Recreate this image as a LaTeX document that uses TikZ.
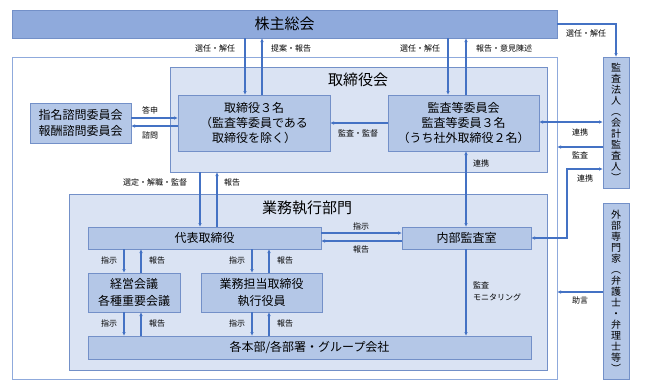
\documentclass[tikz,border=0pt]{standalone}
\usepackage{fontspec}
\setmainfont{Noto Sans CJK JP}
\usetikzlibrary{arrows.meta}
\definecolor{shfill}{HTML}{8FAADC}
\definecolor{panel}{HTML}{DAE3F3}
\definecolor{innerc}{HTML}{B4C7E7}
\definecolor{bord}{HTML}{7390C8}
\definecolor{arrc}{HTML}{4472C4}
\begin{document}
\begin{tikzpicture}[x=1pt,y=-1pt,
  bx/.style={draw=bord, line width=0.9pt, fill=innerc, inner sep=0pt, outer sep=0pt, anchor=north west, align=center, font=\fontsize{12}{15}\selectfont},
  panelbox/.style={bx, fill=panel},
  title/.style={font=\fontsize{15}{18}\selectfont, inner sep=0pt},
  vtext/.style={bx, font=\fontsize{10}{11}\selectfont},
  lbl/.style={font=\fontsize{8}{9.5}\selectfont, inner sep=0pt},
  arr/.style={draw=arrc, line width=1.1pt, -{Latex[length=4pt,width=3.5pt]}},
  darr/.style={draw=arrc, line width=1.1pt, {Latex[length=4pt,width=3.5pt]}-{Latex[length=4pt,width=3.5pt]}},
  ln/.style={draw=arrc, line width=1.1pt}]
\useasboundingbox (0,0) rectangle (645,389);
% boxes
\node[bx, fill=shfill, minimum width=545pt, minimum height=28pt, font=\fontsize{15}{18}\selectfont] (sh) at (12,10) {株主総会};
\node[bx, fill=white, draw=shfill, minimum width=545pt, minimum height=322pt] (outer) at (12,57) {};
\node[panelbox, minimum width=377pt, minimum height=105pt] (board) at (170,67) {};
\node[title] (boardt) at (358,80) {取締役会};
\node[bx, minimum width=152pt, minimum height=56pt] (dir) at (178,95) {取締役３名\\（監査等委員である\\取締役を除く）};
\node[bx, minimum width=151pt, minimum height=56pt] (aud) at (388,95) {監査等委員会\\監査等委員３名\\（うち社外取締役２名）};
\node[bx, minimum width=101pt, minimum height=40pt, font=\fontsize{12}{16}\selectfont] (nom) at (30,103) {指名諮問委員会\\報酬諮問委員会};
\node[panelbox, minimum width=478pt, minimum height=176pt] (exec) at (69,194) {};
\node[title] (exect) at (307,208) {業務執行部門};
\node[bx, minimum width=233pt, minimum height=22pt] (rep) at (88,227) {代表取締役};
\node[bx, minimum width=129pt, minimum height=22pt] (ia) at (402,227) {内部監査室};
\node[bx, minimum width=92pt, minimum height=39pt, font=\fontsize{12}{17}\selectfont] (mgmt) at (88,273) {経営会議\\各種重要会議};
\node[bx, minimum width=121pt, minimum height=39pt, font=\fontsize{12}{17}\selectfont] (bus) at (201,273) {業務担当取締役\\執行役員};
\node[bx, minimum width=443pt, minimum height=23pt] (hq) at (88,336) {各本部/各部署・グループ会社};
\node[vtext, minimum width=26pt, minimum height=131pt] (kansa) at (603,57) {監\\査\\法\\人\\︵\\会\\計\\監\\査\\人\\︶};
\node[vtext, minimum width=26pt, minimum height=176pt] (ext) at (603,203) {外\\部\\専\\門\\家\\︵\\弁\\護\\士\\・\\弁\\理\\士\\等\\︶};
% shareholders arrows
\draw[arr] (245,0 |- sh.south) -- (245,0 |- dir.north);
\draw[arr] (262,0 |- dir.north) -- (262,0 |- sh.south);
\draw[arr] (448,0 |- sh.south) -- (448,0 |- aud.north);
\draw[arr] (466,0 |- aud.north) -- (466,0 |- sh.south);
\draw[arr] (sh.east) -| (kansa.north);
\node[lbl] (l1) at (215,48) {選任・解任};
\node[lbl] (l2) at (291,48) {提案・報告};
\node[lbl] (l3) at (420,48) {選任・解任};
\node[lbl] (l4) at (504,48) {報告・意見陳述};
\node[lbl] (l5) at (586,33) {選任・解任};
% nomination
\draw[arr] (nom.east |- 0,118) -- (dir.west |- 0,118);
\draw[arr] (dir.west |- 0,126) -- (nom.east |- 0,126);
\node[lbl] (l6) at (150,110) {答申};
\node[lbl] (l7) at (150,135) {諮問};
% audit committee
\draw[arr] (aud.west |- 0,123) -- (dir.east |- 0,123);
\node[lbl] (l8) at (358,133) {監査・監督};
\draw[darr] (aud.east |- 0,122) -- (kansa.west |- 0,122);
\node[lbl] (l9) at (580,132) {連携};
\draw[arr] (kansa.west |- 0,147) -- (outer.east |- 0,147);
\node[lbl] (l10) at (580,155) {監査};
\coordinate (c1) at (567,169);
\draw[darr] (ia.east) -| (c1) -- (kansa.west |- c1);
\node[lbl] (l11) at (585,178) {連携};
\draw[darr] (466,0 |- aud.south) -- (466,0 |- ia.north);
\node[lbl] (l12) at (481,163) {連携};
% board to exec
\draw[arr] (200,0 |- board.south) -- (200,0 |- rep.north);
\draw[arr] (217,0 |- rep.north) -- (217,0 |- board.south);
\node[lbl] (l13) at (155,182) {選定・解職・監督};
\node[lbl] (l14) at (232,182) {報告};
% rep to internal audit
\draw[arr] (rep.east |- 0,233) -- (ia.west |- 0,233);
\draw[arr] (ia.west |- 0,241) -- (rep.east |- 0,241);
\node[lbl] (l15) at (361,226) {指示};
\node[lbl] (l16) at (361,249) {報告};
% rep to meetings
\draw[arr] (124,0 |- rep.south) -- (124,0 |- mgmt.north);
\draw[arr] (141,0 |- mgmt.north) -- (141,0 |- rep.south);
\draw[arr] (252,0 |- rep.south) -- (252,0 |- bus.north);
\draw[arr] (269,0 |- bus.north) -- (269,0 |- rep.south);
\node[lbl] (l17) at (109,260) {指示};
\node[lbl] (l18) at (157,260) {報告};
\node[lbl] (l19) at (237,260) {指示};
\node[lbl] (l20) at (285,260) {報告};
% meetings to hq
\draw[arr] (124,0 |- mgmt.south) -- (124,0 |- hq.north);
\draw[arr] (141,0 |- hq.north) -- (141,0 |- mgmt.south);
\draw[arr] (252,0 |- bus.south) -- (252,0 |- hq.north);
\draw[arr] (269,0 |- hq.north) -- (269,0 |- bus.south);
\node[lbl] (l21) at (109,323) {指示};
\node[lbl] (l22) at (157,323) {報告};
\node[lbl] (l23) at (237,323) {指示};
\node[lbl] (l24) at (285,323) {報告};
% monitoring
\draw[arr] (466,0 |- ia.south) -- (466,0 |- hq.north);
\node[lbl, anchor=west] (l25) at (473,285) {監査};
\node[lbl, anchor=west] (l26) at (473,297) {モニタリング};
% advice
\draw[arr] (ext.west |- 0,292) -- (outer.east |- 0,292);
\node[lbl] (l27) at (580,300) {助言};
\end{tikzpicture}
\end{document}
